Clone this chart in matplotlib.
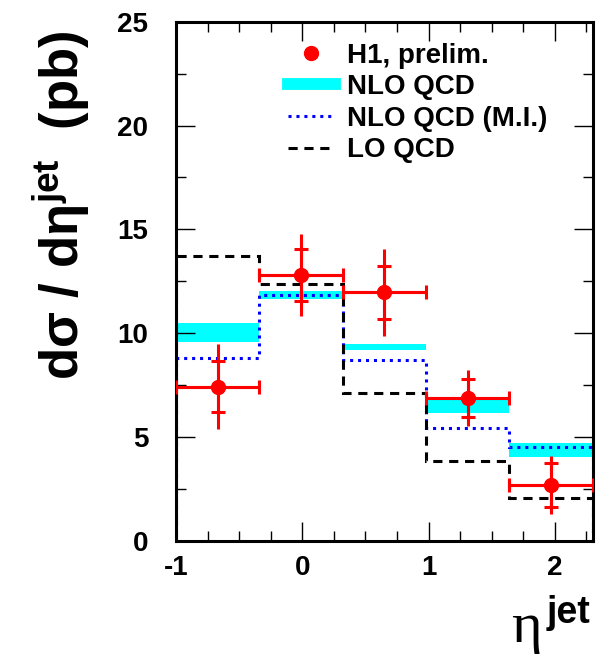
import matplotlib
matplotlib.use('Agg')
import matplotlib.pyplot as plt
import numpy as np
from matplotlib.lines import Line2D
from matplotlib.ticker import MultipleLocator

# bin edges in eta^jet
edges = [-1.0, -0.34, 0.32, 0.98, 1.64, 2.3]

# H1 preliminary data
h1_x = [-0.67, -0.01, 0.65, 1.31, 1.97]
h1_y = [7.42, 12.81, 11.96, 6.88, 2.68]
h1_stat = [1.22, 1.25, 1.27, 0.92, 1.08]
h1_tot = [2.06, 1.99, 2.08, 1.35, 1.41]

# theory predictions
nlo_lo = [9.59, 11.65, 9.19, 6.17, 4.02]
nlo_hi = [10.48, 12.04, 9.48, 6.81, 4.69]
nlo_mi = [8.82, 11.85, 8.71, 5.41, 4.50]
lo_qcd = [13.74, 12.38, 7.10, 3.85, 2.04]

labels = ['H1, prelim.', 'NLO QCD', 'NLO QCD (M.I.)', 'LO QCD']

plt.rcParams['font.family'] = 'Liberation Sans'
plt.rcParams['font.weight'] = 'bold'
plt.rcParams['axes.unicode_minus'] = False
plt.rcParams['mathtext.fontset'] = 'custom'
plt.rcParams['mathtext.bf'] = 'Liberation Sans:bold'
plt.rcParams['mathtext.rm'] = 'Liberation Sans:bold'
plt.rcParams['mathtext.it'] = 'Liberation Serif'

dotted = (0, (1, 1.6))
dashed = (0, (3, 2.2))

fig = plt.figure(figsize=(6.07, 6.61), dpi=100)
ax = fig.add_axes([0.29, 0.182, 0.6865, 0.785])

ax.stairs(nlo_hi, edges, baseline=nlo_lo, fill=True, color='cyan', lw=0, zorder=1)
ax.stairs(nlo_mi, edges, baseline=0, color='blue', lw=2.2, linestyle=dotted, zorder=2)
ax.stairs(lo_qcd, edges, baseline=0, color='black', lw=2.2, linestyle=dashed, zorder=2)

xerr = np.diff(edges) / 2
ax.errorbar(h1_x, h1_y, xerr=xerr, yerr=h1_tot, fmt='o', color='red', ms=10,
            elinewidth=2.2, capsize=0, zorder=4)
ax.errorbar(h1_x, h1_y, yerr=h1_stat, fmt='none', ecolor='red',
            elinewidth=2.2, capsize=5, capthick=2.2, zorder=4)
ax.errorbar(h1_x, h1_y, xerr=xerr, fmt='none', ecolor='red',
            elinewidth=2.2, capsize=5, capthick=2.2, zorder=4)

ax.set_xlim(-1, 2.3)
ax.set_ylim(0, 25)
ax.xaxis.set_major_locator(MultipleLocator(1))
ax.xaxis.set_minor_locator(MultipleLocator(0.25))
ax.yaxis.set_major_locator(MultipleLocator(5))
ax.yaxis.set_minor_locator(MultipleLocator(2.5))
ax.tick_params(which='both', direction='in', top=True, right=True, width=1)
ax.tick_params(which='major', length=14)
ax.tick_params(which='minor', length=7)
ax.tick_params(axis='x', pad=10, labelsize=20)
ax.tick_params(axis='y', pad=20, labelsize=20)
for s in ax.spines.values():
    s.set_linewidth(2.2)

handles = [
    Line2D([], [], marker='o', color='red', ls='none', ms=10),
    Line2D([], [], color='cyan', lw=8.5),
    Line2D([], [], color='blue', lw=2.2, ls=dotted),
    Line2D([], [], color='black', lw=2.2, ls=dashed),
]
ax.legend(handles, labels, loc='upper left', bbox_to_anchor=(0.268, 0.96),
          frameon=False, fontsize=20, handlelength=1.7, handletextpad=0.45,
          labelspacing=0.2, borderpad=0, borderaxespad=0)

fig.text(61 / 607, 1 - 30 / 661, r'$\mathbf{d\sigma\ /\ d\eta^{jet}\ \ (pb)}$',
         rotation=90, ha='center', va='top', fontsize=38)
fig.text(511 / 607, (661 - 642) / 661, 'η', family='Liberation Serif',
         fontweight='normal', fontsize=42, ha='left', va='baseline')
fig.text(590 / 607, (661 - 623) / 661, 'jet', fontsize=27, ha='right', va='baseline')

fig.savefig('out.png', dpi=100)
